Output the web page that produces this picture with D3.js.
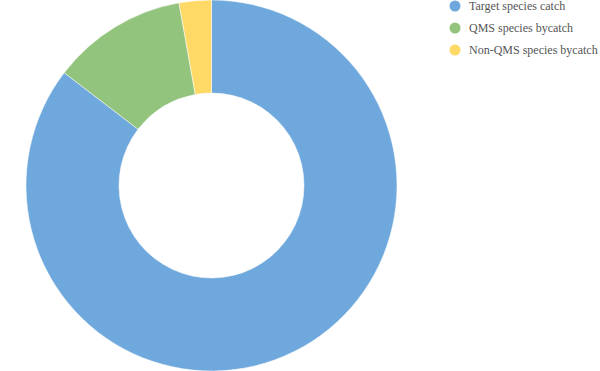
<!DOCTYPE html>
<html><head><meta charset="utf-8">
<script src="https://cdn.jsdelivr.net/npm/d3@7"></script>
<style>body{margin:0;background:#fff}svg{display:block}
.lg text{font-family:"Liberation Serif","Times New Roman",serif;font-size:12px;fill:#555}</style>
</head><body>
<svg id="c" width="600" height="371"></svg>
<script>
const categories = ["Target species catch", "QMS species bycatch", "Non-QMS species bycatch"];
const values = [85.4, 11.8, 2.8];
const colors = ["#6fa8dc", "#93c47d", "#ffd966"];

const svg = d3.select("#c");
const cx = 211.5, cy = 185.5, R = 185.5, r = 92.5;
const pie = d3.pie().sort(null).value(d => d)(values);
const arc = d3.arc().innerRadius(r).outerRadius(R);
const g = svg.append("g").attr("transform", `translate(${cx},${cy})`);
g.selectAll("path").data(pie).join("path")
  .attr("d", arc).attr("fill", (d, i) => colors[i])
  .attr("stroke", "#fff").attr("stroke-width", 0.5);

const lg = svg.append("g").attr("class", "lg").attr("transform", "translate(455,6)");
const items = lg.selectAll("g").data(categories).join("g")
  .attr("transform", (d, i) => `translate(0,${i * 22})`);
items.append("circle").attr("r", 5.5).attr("fill", (d, i) => colors[i]);
items.append("text").attr("x", 14).attr("y", 4).text(d => d);
</script>
</body></html>
